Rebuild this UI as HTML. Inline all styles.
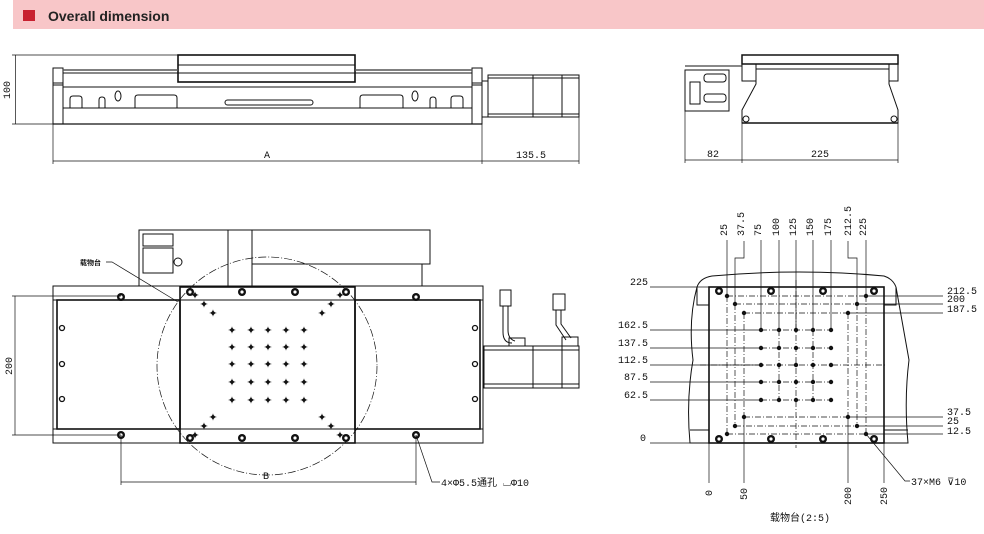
<!DOCTYPE html>
<html><head><meta charset="utf-8"><style>
body{margin:0;background:#fff;}
svg{display:block}
text{font-family:"Liberation Sans","Noto Sans CJK SC",sans-serif;}
.d,.d text{font-family:"Liberation Mono","Noto Sans CJK SC",monospace;font-size:10px;fill:#111}
</style></head><body>
<svg width="984" height="534" viewBox="0 0 984 534" xmlns="http://www.w3.org/2000/svg">
<rect x="13" y="0" width="971" height="29" fill="#f8c6c8"/>
<rect x="23" y="10" width="12" height="11" fill="#c8202f"/>
<text x="48" y="21" font-size="14" font-weight="bold" fill="#222">Overall dimension</text>

<g fill="none" stroke="#111" stroke-width="1">
<rect x="178" y="55" width="177" height="27" stroke-width="1.6"/>
<line x1="178" y1="65" x2="355" y2="65"/>
<rect x="53" y="68" width="10" height="56"/>
<rect x="472" y="68" width="10" height="56"/>
<line x1="63" y1="70" x2="178" y2="70" stroke-width="1.5" stroke="#555"/>
<line x1="355" y1="70" x2="472" y2="70" stroke-width="1.5" stroke="#555"/>
<line x1="63" y1="73" x2="472" y2="73"/>
<line x1="53" y1="83" x2="63" y2="83"/><line x1="53" y1="85" x2="63" y2="85"/>
<line x1="472" y1="83" x2="482" y2="83"/><line x1="472" y1="85" x2="482" y2="85"/>
<line x1="63" y1="87" x2="472" y2="87"/>
<line x1="63" y1="108" x2="472" y2="108"/>
<line x1="53" y1="124" x2="482" y2="124" stroke-width="1.3"/>
<path d="M70 108V99q0-3 3-3h6q3 0 3 3v9M99 108v-8q0-3 3-3q3 0 3 3v8M135 108V98q0-3 3-3h36q3 0 3 3v10M360 108V98q0-3 3-3h37q3 0 3 3v10M430 108v-8q0-3 3-3q3 0 3 3v8M451 108V99q0-3 3-3h6q3 0 3 3v9"/>
<ellipse cx="118" cy="96" rx="3" ry="5"/><ellipse cx="415" cy="96" rx="3" ry="5"/>
<rect x="225" y="100" width="88" height="5" rx="2.5"/>
<rect x="482" y="81" width="6" height="36"/>
<rect x="488" y="75" width="91" height="42"/>
<line x1="533" y1="75" x2="533" y2="117"/><line x1="562" y1="75" x2="562" y2="117"/>
<line x1="488" y1="78" x2="579" y2="78"/><line x1="488" y1="114" x2="579" y2="114"/>
<g stroke-width="0.7">
<line x1="12" y1="55" x2="178" y2="55"/><line x1="12" y1="124" x2="53" y2="124"/>
<line x1="15.5" y1="55" x2="15.5" y2="124"/>
<line x1="53" y1="124" x2="53" y2="164"/><line x1="482" y1="117" x2="482" y2="164"/><line x1="579" y1="117" x2="579" y2="164"/>
<line x1="53" y1="161" x2="579" y2="161"/>
</g>
</g>
<text class="d" transform="translate(10,90) rotate(-90)" text-anchor="middle">100</text>
<text class="d" x="267" y="158" text-anchor="middle">A</text>
<text class="d" x="531" y="158" text-anchor="middle">135.5</text>

<g fill="none" stroke="#111" stroke-width="1">
<rect x="742" y="55" width="156" height="9" stroke-width="1.5"/>
<rect x="742" y="64" width="14" height="17"/><rect x="889" y="64" width="9" height="17"/>
<path d="M756 69H889M756 69L756 84L742 110V123H898V110L889 84V69"/>
<line x1="742" y1="123" x2="898" y2="123" stroke-width="1.5"/>
<circle cx="746" cy="119" r="3"/><circle cx="894" cy="119" r="3"/>
<line x1="685" y1="66" x2="742" y2="66"/>
<rect x="685" y="70" width="44" height="41"/>
<rect x="704" y="74" width="22" height="8" rx="3"/><rect x="704" y="94" width="22" height="8" rx="3"/>
<rect x="690" y="82" width="10" height="22"/>
<g stroke-width="0.7">
<line x1="685" y1="111" x2="685" y2="163"/><line x1="742" y1="123" x2="742" y2="163"/><line x1="898" y1="123" x2="898" y2="163"/>
<line x1="685" y1="160" x2="898" y2="160"/>
</g>
</g>
<text class="d" x="713" y="157" text-anchor="middle">82</text>
<text class="d" x="820" y="157" text-anchor="middle">225</text>

<g fill="none" stroke="#111" stroke-width="1">
<path d="M139 286V230H430V264H422V286"/>
<line x1="228" y1="230" x2="228" y2="286"/><line x1="252" y1="230" x2="252" y2="286"/>
<line x1="252" y1="264" x2="422" y2="264"/>
<rect x="143" y="234" width="30" height="12"/><rect x="143" y="248" width="30" height="25"/>
<circle cx="178" cy="262" r="4"/>
<rect x="53" y="286" width="430" height="157"/>
<line x1="53" y1="300" x2="483" y2="300"/><line x1="53" y1="429" x2="483" y2="429"/>
<rect x="57" y="300" width="123" height="129" stroke-width="1.6"/>
<rect x="355" y="300" width="125" height="129" stroke-width="1.6"/>
<rect x="180" y="287" width="175" height="156" stroke-width="1.6"/>
<ellipse cx="267" cy="366" rx="110" ry="109" stroke-dasharray="8 2 1 2" stroke-width="0.7"/>
<g fill="#111" stroke="none">
<circle cx="190" cy="292" r="4"/><circle cx="242" cy="292" r="4"/><circle cx="295" cy="292" r="4"/><circle cx="346" cy="292" r="4"/>
<circle cx="190" cy="438" r="4"/><circle cx="242" cy="438" r="4"/><circle cx="295" cy="438" r="4"/><circle cx="346" cy="438" r="4"/>
<circle cx="121" cy="297" r="4"/><circle cx="416" cy="297" r="4"/><circle cx="121" cy="435" r="4"/><circle cx="416" cy="435" r="4"/>
</g>
<g stroke-width="1.3">
<circle cx="62" cy="328" r="2.5"/><circle cx="62" cy="364" r="2.5"/><circle cx="62" cy="399" r="2.5"/>
<circle cx="475" cy="328" r="2.5"/><circle cx="475" cy="364" r="2.5"/><circle cx="475" cy="399" r="2.5"/>
</g>
<g fill="#fff" stroke="none">
<circle cx="190" cy="292" r="1.6"/><circle cx="242" cy="292" r="1.6"/><circle cx="295" cy="292" r="1.6"/><circle cx="346" cy="292" r="1.6"/>
<circle cx="190" cy="438" r="1.6"/><circle cx="242" cy="438" r="1.6"/><circle cx="295" cy="438" r="1.6"/><circle cx="346" cy="438" r="1.6"/>
<circle cx="121" cy="297" r="1.6"/><circle cx="416" cy="297" r="1.6"/><circle cx="121" cy="435" r="1.6"/><circle cx="416" cy="435" r="1.6"/>
</g>
<rect x="484" y="346" width="95" height="42"/>
<line x1="533" y1="346" x2="533" y2="388"/><line x1="562" y1="346" x2="562" y2="388"/>
<line x1="484" y1="350" x2="579" y2="350"/><line x1="484" y1="384" x2="579" y2="384"/>
<path d="M503 306V332Q503 343 512 343M508 306V330Q508 339 515 341"/>
<rect x="500" y="290" width="11" height="16"/><rect x="509" y="338" width="16" height="8"/>
<path d="M556 310V325L566 340M561 310V324L571 338"/>
<rect x="553" y="294" width="12" height="16"/><rect x="562" y="337" width="16" height="9"/>
<g stroke-width="0.7">
<line x1="12" y1="296" x2="121" y2="296"/><line x1="12" y1="435" x2="121" y2="435"/>
<line x1="15" y1="296" x2="15" y2="435"/>
<line x1="121" y1="435" x2="121" y2="485"/><line x1="416" y1="435" x2="416" y2="485"/>
<line x1="121" y1="482" x2="416" y2="482"/>
<path d="M416 435L432 482H440"/>
<path d="M106 262L112 262L178 302"/>
</g>
</g>
<g fill="#111" font-size="11">
<text x="232" y="334" text-anchor="middle">✦</text><text x="251" y="334" text-anchor="middle">✦</text><text x="268" y="334" text-anchor="middle">✦</text><text x="286" y="334" text-anchor="middle">✦</text><text x="304" y="334" text-anchor="middle">✦</text>
<text x="232" y="351" text-anchor="middle">✦</text><text x="251" y="351" text-anchor="middle">✦</text><text x="268" y="351" text-anchor="middle">✦</text><text x="286" y="351" text-anchor="middle">✦</text><text x="304" y="351" text-anchor="middle">✦</text>
<text x="232" y="368" text-anchor="middle">✦</text><text x="251" y="368" text-anchor="middle">✦</text><text x="268" y="368" text-anchor="middle">✦</text><text x="286" y="368" text-anchor="middle">✦</text><text x="304" y="368" text-anchor="middle">✦</text>
<text x="232" y="386" text-anchor="middle">✦</text><text x="251" y="386" text-anchor="middle">✦</text><text x="268" y="386" text-anchor="middle">✦</text><text x="286" y="386" text-anchor="middle">✦</text><text x="304" y="386" text-anchor="middle">✦</text>
<text x="232" y="404" text-anchor="middle">✦</text><text x="251" y="404" text-anchor="middle">✦</text><text x="268" y="404" text-anchor="middle">✦</text><text x="286" y="404" text-anchor="middle">✦</text><text x="304" y="404" text-anchor="middle">✦</text>
<text x="195" y="299" text-anchor="middle">✦</text><text x="204" y="308" text-anchor="middle">✦</text><text x="213" y="317" text-anchor="middle">✦</text>
<text x="340" y="299" text-anchor="middle">✦</text><text x="331" y="308" text-anchor="middle">✦</text><text x="322" y="317" text-anchor="middle">✦</text>
<text x="195" y="439" text-anchor="middle">✦</text><text x="204" y="430" text-anchor="middle">✦</text><text x="213" y="421" text-anchor="middle">✦</text>
<text x="340" y="439" text-anchor="middle">✦</text><text x="331" y="430" text-anchor="middle">✦</text><text x="322" y="421" text-anchor="middle">✦</text>
</g>
<text class="d" transform="translate(12,366) rotate(-90)" text-anchor="middle">200</text>
<text class="d" x="266" y="479" text-anchor="middle">B</text>
<text class="d" x="441" y="486">4×Φ5.5通孔 ⌴Φ10</text>
<text x="80" y="265" font-size="7" font-weight="bold" fill="#111">载物台</text>

<g fill="none" stroke="#111" stroke-width="1">
<path d="M697 287Q700 278 712 276Q800 268 884 276Q893 279 896 287"/>
<path d="M697 287Q688 320 693 360Q686 400 690 443H908Q904 400 909 360Q902 320 896 287"/>
<rect x="709" y="287" width="175" height="156" stroke-width="1.6"/>
<path d="M697 287V305H709M896 287V305H884M690 430H709M908 430H884"/>
<g stroke-width="0.7">
<line x1="727" y1="240" x2="727" y2="296"/>
<path d="M744 241V258H735V304"/>
<line x1="761" y1="240" x2="761" y2="330"/><line x1="779" y1="240" x2="779" y2="330"/><line x1="796" y1="240" x2="796" y2="330"/><line x1="813" y1="240" x2="813" y2="330"/><line x1="831" y1="240" x2="831" y2="330"/>
<path d="M848 241V258H857V304"/>
<line x1="866" y1="240" x2="866" y2="296"/>
<line x1="650" y1="287" x2="709" y2="287"/>
<line x1="650" y1="330" x2="761" y2="330"/><line x1="650" y1="348" x2="761" y2="348"/><line x1="650" y1="365" x2="761" y2="365"/><line x1="650" y1="382" x2="761" y2="382"/><line x1="650" y1="400" x2="761" y2="400"/>
<line x1="650" y1="443" x2="690" y2="443"/>
<line x1="866" y1="296" x2="943" y2="296"/><line x1="857" y1="304" x2="943" y2="304"/><line x1="848" y1="313" x2="943" y2="313"/>
<line x1="848" y1="417" x2="943" y2="417"/><line x1="857" y1="426" x2="943" y2="426"/><line x1="866" y1="434" x2="943" y2="434"/>
<line x1="709" y1="443" x2="709" y2="483"/><line x1="744" y1="417" x2="744" y2="483"/><line x1="848" y1="417" x2="848" y2="483"/><line x1="884" y1="443" x2="884" y2="483"/>
<path d="M866 434L905 481H910"/>
<g stroke-dasharray="6 2 1 2">
<line x1="727" y1="296" x2="866" y2="296"/><line x1="735" y1="304" x2="857" y2="304"/><line x1="744" y1="313" x2="848" y2="313"/>
<line x1="727" y1="434" x2="866" y2="434"/><line x1="735" y1="426" x2="857" y2="426"/><line x1="744" y1="417" x2="848" y2="417"/>
<line x1="727" y1="296" x2="727" y2="434"/><line x1="735" y1="304" x2="735" y2="426"/><line x1="744" y1="313" x2="744" y2="417"/>
<line x1="866" y1="296" x2="866" y2="434"/><line x1="857" y1="304" x2="857" y2="426"/><line x1="848" y1="313" x2="848" y2="417"/>
<line x1="761" y1="330" x2="831" y2="330"/><line x1="761" y1="348" x2="831" y2="348"/><line x1="700" y1="365" x2="886" y2="365"/><line x1="761" y1="382" x2="831" y2="382"/><line x1="761" y1="400" x2="831" y2="400"/>
<line x1="779" y1="330" x2="779" y2="400"/><line x1="796" y1="280" x2="796" y2="448"/><line x1="813" y1="330" x2="813" y2="400"/>
</g>
</g>
</g>
<g fill="#111">
<circle cx="719" cy="291" r="4"/><circle cx="771" cy="291" r="4"/><circle cx="823" cy="291" r="4"/><circle cx="874" cy="291" r="4"/>
<circle cx="719" cy="439" r="4"/><circle cx="771" cy="439" r="4"/><circle cx="823" cy="439" r="4"/><circle cx="874" cy="439" r="4"/>
<circle cx="727" cy="296" r="2.2"/><circle cx="866" cy="296" r="2.2"/><circle cx="735" cy="304" r="2.2"/><circle cx="857" cy="304" r="2.2"/><circle cx="744" cy="313" r="2.2"/><circle cx="848" cy="313" r="2.2"/>
<circle cx="727" cy="434" r="2.2"/><circle cx="866" cy="434" r="2.2"/><circle cx="735" cy="426" r="2.2"/><circle cx="857" cy="426" r="2.2"/><circle cx="744" cy="417" r="2.2"/><circle cx="848" cy="417" r="2.2"/>
<circle cx="761" cy="330" r="2.2"/><circle cx="779" cy="330" r="2.2"/><circle cx="796" cy="330" r="2.2"/><circle cx="813" cy="330" r="2.2"/><circle cx="831" cy="330" r="2.2"/>
<circle cx="761" cy="348" r="2.2"/><circle cx="779" cy="348" r="2.2"/><circle cx="796" cy="348" r="2.2"/><circle cx="813" cy="348" r="2.2"/><circle cx="831" cy="348" r="2.2"/>
<circle cx="761" cy="365" r="2.2"/><circle cx="779" cy="365" r="2.2"/><circle cx="796" cy="365" r="2.2"/><circle cx="813" cy="365" r="2.2"/><circle cx="831" cy="365" r="2.2"/>
<circle cx="761" cy="382" r="2.2"/><circle cx="779" cy="382" r="2.2"/><circle cx="796" cy="382" r="2.2"/><circle cx="813" cy="382" r="2.2"/><circle cx="831" cy="382" r="2.2"/>
<circle cx="761" cy="400" r="2.2"/><circle cx="779" cy="400" r="2.2"/><circle cx="796" cy="400" r="2.2"/><circle cx="813" cy="400" r="2.2"/><circle cx="831" cy="400" r="2.2"/>
</g>
<g fill="#fff"><circle cx="719" cy="291" r="1.6"/><circle cx="771" cy="291" r="1.6"/><circle cx="823" cy="291" r="1.6"/><circle cx="874" cy="291" r="1.6"/><circle cx="719" cy="439" r="1.6"/><circle cx="771" cy="439" r="1.6"/><circle cx="823" cy="439" r="1.6"/><circle cx="874" cy="439" r="1.6"/></g>
<g class="d">
<text transform="translate(727,236) rotate(-90)">25</text>
<text transform="translate(744,236) rotate(-90)">37.5</text>
<text transform="translate(761,236) rotate(-90)">75</text>
<text transform="translate(779,236) rotate(-90)">100</text>
<text transform="translate(796,236) rotate(-90)">125</text>
<text transform="translate(813,236) rotate(-90)">150</text>
<text transform="translate(831,236) rotate(-90)">175</text>
<text transform="translate(851,236) rotate(-90)">212.5</text>
<text transform="translate(866,236) rotate(-90)">225</text>
<text x="648" y="285" text-anchor="end">225</text>
<text x="648" y="328" text-anchor="end">162.5</text>
<text x="648" y="346" text-anchor="end">137.5</text>
<text x="648" y="363" text-anchor="end">112.5</text>
<text x="648" y="380" text-anchor="end">87.5</text>
<text x="648" y="398" text-anchor="end">62.5</text>
<text x="646" y="441" text-anchor="end">0</text>
<text x="947" y="294">212.5</text>
<text x="947" y="302">200</text>
<text x="947" y="312">187.5</text>
<text x="947" y="415">37.5</text>
<text x="947" y="424">25</text>
<text x="947" y="434">12.5</text>
<text transform="translate(712,496) rotate(-90)">0</text>
<text transform="translate(747,500) rotate(-90)">50</text>
<text transform="translate(851,505) rotate(-90)">200</text>
<text transform="translate(887,505) rotate(-90)">250</text>
<text x="911" y="485">37×M6 ⊽10</text>
<text x="770" y="521">载物台(2:5)</text>
</g>
</svg>
</body></html>
